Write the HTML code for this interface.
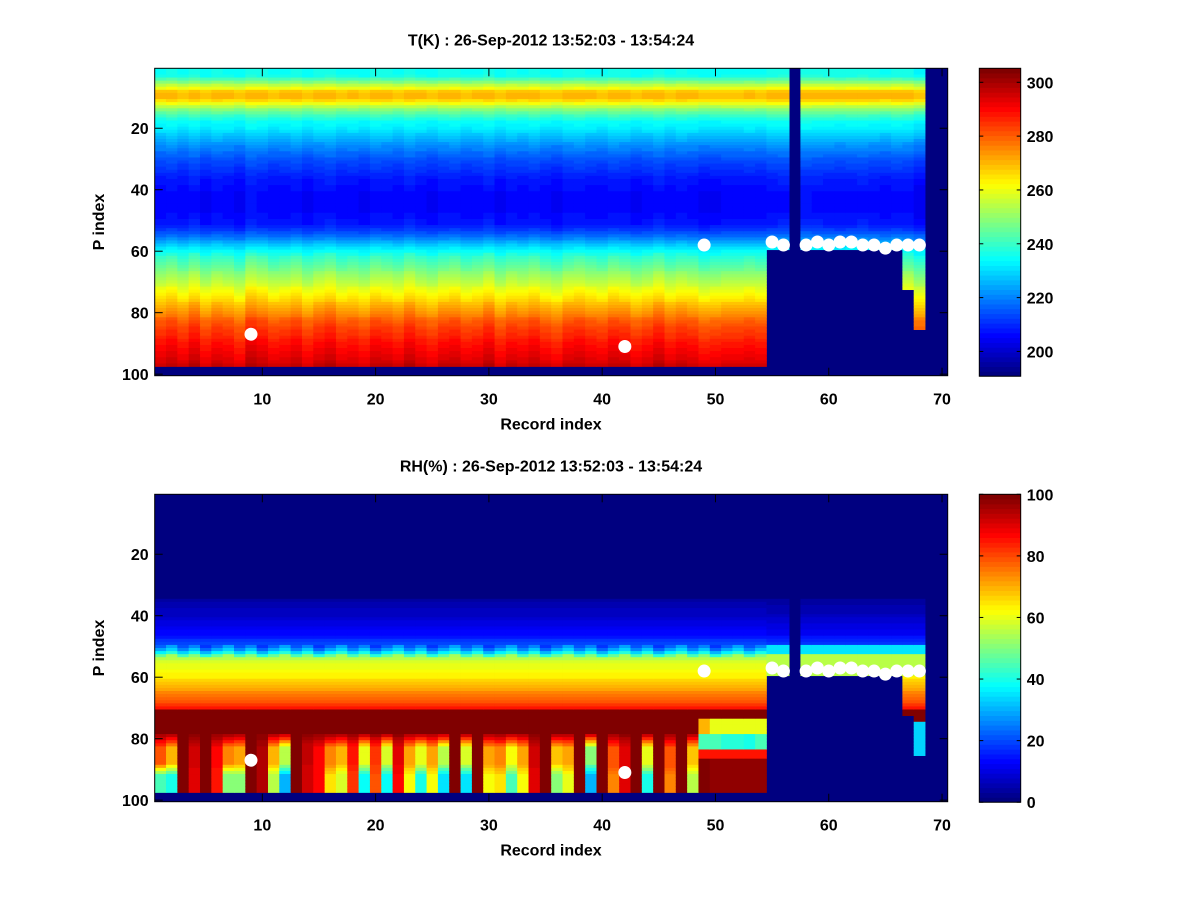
<!DOCTYPE html>
<html><head><meta charset="utf-8"><style>
body{margin:0;background:#fff;}
svg text{font-family:"Liberation Sans",sans-serif;font-weight:bold;font-size:16px;fill:#000;}
</style></head><body>
<svg id="fig" width="1200" height="900" xmlns="http://www.w3.org/2000/svg">
<rect width="1200" height="900" fill="#fff"/>
<g id="top"></g>
<g id="bot"></g>
</svg>
<script>
// ---- data ----
const tProfile=[235,235,236,242,248,255,260,268,270,270,266,260,254,248,244,240,237,234,233,232,
230,228,226,224,222,220,219,217,216,214,213,212,211,210,209,208,207,207,206,206,
205,205,205,205,205,205,205,206,206,207,207,209,211,214,217,220,224,228,231,234,
237,239,241,243,245,247,249,251,253,255,257,259,261,263,265,267,269,271,273,275,
277,279,281,282,284,285,286,287,288,289,290,291,292,293,294,295,297];
const tOffset=[0,2,-1,3,-2,1,0,-3,4,2,-1,0,2,-2,1,3,-1,0,-2,2,
1,-1,3,0,-2,1,2,-1,0,3,-2,1,0,2,-1,-3,1,2,0,-1,
2,1,-2,0,3,-1,1,0,-3,-2,-1,-1,0,-1,2,3,0,4,3,2,
1,2,3,1,0,2,1,-4,0,0];
const lastRow=[97,97,97,97,97,97,97,97,97,97,97,97,97,97,97,97,97,97,97,97,
97,97,97,97,97,97,97,97,97,97,97,97,97,97,97,97,97,97,97,97,
97,97,97,97,97,97,97,97,97,97,97,97,97,97,59,59,0,59,59,59,
59,59,59,59,59,59,72,85,0,0];
const rhProfile=[0,0,0,0,0,0,0,0,0,0,0,0,0,0,0,0,0,0,0,0,
0,0,0,0,0,0,0,0,0,0,0,0,0,0,3,4,5,6,6,7,
8,9,10,11,12,13,15,17,19,23,28,36,48,55,58,60,61,62,63,64,
66,68,70,72,74,76,78,80,82,85,100,100,100,100,100,100,100,100,100,100,
100,100,100,100,100,100,100,100,100,100,100,100,100,100,100,100,100];
const rhUpper=[100,100,100,100,100,100,100,100,100,100,100,100,100,100,100,100,100,100,100,100,
100,100,100,100,100,100,100,100,100,100,100,100,100,100,100,100,100,100,100,100,
100,100,100,100,100,100,100,100,70,60,60,60,60,60,0,0,0,0,0,0,
0,0,0,0,0,0,85,35,0,0];
const rhMid=[80,70,100,92,100,88,75,72,100,96,70,55,100,93,88,75,70,85,60,82,
58,90,72,60,72,55,100,58,100,72,75,62,72,92,100,68,72,100,50,100,
80,90,100,60,100,80,100,68,45,45,42,42,40,45,0,0,0,0,0,0,
0,0,0,0,0,0,85,33,0,0];
const rhLow=[45,40,100,90,100,85,50,50,100,95,55,30,100,92,88,65,58,82,38,80,
38,88,62,40,62,35,100,35,100,62,65,45,62,90,100,50,60,100,30,100,
75,90,100,40,100,75,100,55,100,98,98,98,98,98,0,0,0,0,0,0,
0,0,0,0,0,0,85,30,0,0];
const dotX=[9,42,49,55,56,58,59,60,61,62,63,64,65,66,67,68];
const dotY=[87,91,58,57,58,58,57,58,57,57,58,58,59,58,58,58];
const xTicks=[10,20,30,40,50,60,70];
const yTicks=[20,40,60,80,100];
const tTicks=[200,220,240,260,280,300];
const rhTicks=[0,20,40,60,80,100];

// ---- helpers ----
const NS="http://www.w3.org/2000/svg";
function mk(tag,attrs,parent){const e=document.createElementNS(NS,tag);for(const k in attrs)e.setAttribute(k,attrs[k]);parent.appendChild(e);return e;}
function jet(v){v=Math.max(0,Math.min(1,v));v=Math.round(v*63)/63;
 const c=x=>Math.round(255*Math.max(0,Math.min(1,x)));
 return `rgb(${c(1.5-Math.abs(4*v-3))},${c(1.5-Math.abs(4*v-2))},${c(1.5-Math.abs(4*v-1))})`;}

function tVal(c,r){
 if(r>lastRow[c-1])return null;
 return tProfile[r-1]+tOffset[c-1]*(r>60?0.9:0.4);
}
function rhVal(c,r){
 if(r>lastRow[c-1])return null;
 const i=c-1;
 if(lastRow[i]<97){
   if(r>=53&&r<=59)return 55;
   if(r>=50&&r<53)return 35;
   if(r>=35&&r<50)return rhProfile[r-1]*0.9;
   if(c===68&&r>=73)return r<=74?100:rhMid[i];
 }
 if(r>=74&&r<=78)return Math.min(rhUpper[i],rhProfile[r-1]);
 if(c>=49&&c<=54){
   if(r>=79&&r<=83)return rhMid[i];
   if(r>=84&&r<=86)return 85;
   if(r>=87)return rhLow[i];
 }
 if(r>=79&&r<=83){const f=(r-78)/5;return 100+(rhMid[i]-100)*f;}
 if(r>=84&&r<=88)return rhMid[i];
 if(r>=89&&r<=92){const f=(r-88)/4;return rhMid[i]+(rhLow[i]-rhMid[i])*f;}
 if(r>=93)return rhLow[i];
 let v=rhProfile[r-1];
 if(r>=50&&r<=53)v+=((c*7)%5-2)*3;
 return Math.max(0,v);
}

function panel(g,top,bot,vmin,vmax,valFn,title,cticks){
 const L=154.7,R=947.7;
 const xs=c=>L+(c-0.5)*(R-L)/70;
 const ys=r=>top+(r-0.5)*(bot-top)/100;
 const cw=(R-L)/70,rh=(bot-top)/100;
 const bg=mk('rect',{x:L,y:top,width:R-L,height:bot-top,fill:jet(0)},g);
 
 
 for(let c=1;c<=70;c++){for(let r=1;r<=100;r++){
   const v=valFn(c,r); if(v===null)continue;
   const cell=mk('rect',{x:(xs(c)-cw/2).toFixed(2),y:(ys(r)-rh/2).toFixed(2),width:(cw+0.4).toFixed(2),height:(rh+0.4).toFixed(2),fill:jet((v-vmin)/(vmax-vmin))},g);
   
   
 }}
 for(let i=0;i<dotX.length;i++){
   const d=mk('circle',{cx:xs(dotX[i]),cy:ys(dotY[i]),r:6.5,fill:'#fff'},g);
   
   
 }
 const fr=mk('rect',{x:L,y:top,width:R-L,height:bot-top,fill:'none',stroke:'#000','stroke-width':1},g);
 
 
 xTicks.forEach(t=>{const x=xs(t);
   mk('line',{x1:x,y1:bot,x2:x,y2:bot-8,stroke:'#000'},g);
   mk('line',{x1:x,y1:top,x2:x,y2:top+8,stroke:'#000'},g);
   const tx=mk('text',{x:x,y:bot+29,'text-anchor':'middle'},g);tx.textContent=t;
   
   });
 yTicks.forEach(t=>{const y=ys(t);
   mk('line',{x1:L,y1:y,x2:L+8,y2:y,stroke:'#000'},g);
   mk('line',{x1:R,y1:y,x2:R-8,y2:y,stroke:'#000'},g);
   const tx=mk('text',{x:L-6,y:y+6,'text-anchor':'end'},g);tx.textContent=t;
   
   });
 const ti=mk('text',{x:551,y:top-23,'text-anchor':'middle'},g);ti.textContent=title;
 
 
 const xl=mk('text',{x:551,y:bot+54,'text-anchor':'middle','font-size':'17'},g);xl.textContent='Record index';
 
 
 const cy=(top+bot)/2;
 const yl=mk('text',{x:104,y:cy,'text-anchor':'middle','font-size':'17',transform:`rotate(-90 104 ${cy})`},g);yl.textContent='P index';
 
 
 const CL=979.3,CR=1020.7,cb=bot+0.5;
 const cs=v=>cb-(v-vmin)/(vmax-vmin)*(cb-top);
 for(let k=0;k<64;k++){
   const y1=cb-(k+1)*(cb-top)/64,y0=cb-k*(cb-top)/64;
   const s=mk('rect',{x:CL,y:y1.toFixed(2),width:CR-CL,height:(y0-y1+0.4).toFixed(2),fill:jet(k/63)},g);
   
   
 }
 const cf=mk('rect',{x:CL,y:top,width:CR-CL,height:cb-top,fill:'none',stroke:'#000'},g);
 
 
 cticks.forEach(t=>{const y=cs(t);
   mk('line',{x1:CL,y1:y,x2:CL+4,y2:y,stroke:'#000'},g);
   mk('line',{x1:CR,y1:y,x2:CR-4,y2:y,stroke:'#000'},g);
   const tx=mk('text',{x:CR+6,y:y+6},g);tx.textContent=t;
   
   });
}
panel(document.getElementById('top'),68.3,375.7,190.8,305.2,tVal,'T(K) : 26-Sep-2012 13:52:03 - 13:54:24',tTicks);
panel(document.getElementById('bot'),494.3,801.7,0,100,rhVal,'RH(%) : 26-Sep-2012 13:52:03 - 13:54:24',rhTicks);
</script>
</body></html>
